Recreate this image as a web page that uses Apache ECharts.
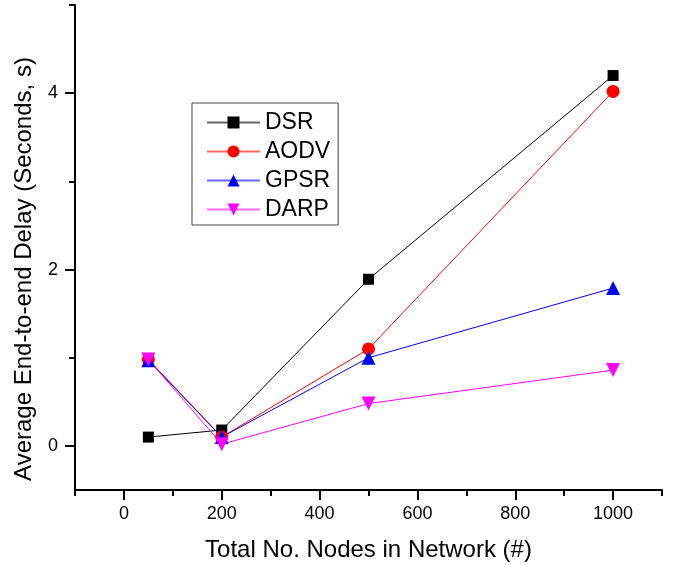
<!DOCTYPE html>
<html lang="en">
<head>
    <meta charset="UTF-8">
    <title>End-to-end Delay</title>
    <script src="https://cdn.jsdelivr.net/npm/echarts@6/dist/echarts.min.js"></script>
</head>
<body style="margin:0;">
    <div id="chart" style="width: 673px; height: 565px;"></div>
    <script type="text/javascript">
        // Data
        const nodes = [50, 200, 500, 1000];
        const dsr = [0.10, 0.18, 1.89, 4.20];
        const aodv = [0.98, 0.10, 1.10, 4.02];
        const gpsr = [0.97, 0.10, 1.00, 1.79];
        const darp = [0.98, 0.02, 0.48, 0.86];

        const xMajor = [0, 200, 400, 600, 800, 1000];
        const xMinor = [-100, 100, 300, 500, 700, 900, 1100];
        const yMajor = [0, 2, 4];
        const yMinor = [1, 3, 5];

        const xTitle = 'Total No. Nodes in Network (#)';
        const yTitle = 'Average End-to-end Delay (Seconds, s)';

        const font = 'Liberation Sans, Arial, sans-serif';
        const chart = echarts.init(document.getElementById('chart'));

        function pairs(ys) {
            return nodes.map((x, i) => [x, ys[i]]);
        }
        function lineSeries(name, ys, color, symbol, size, rotate) {
            return {
                name: name,
                type: 'line',
                data: pairs(ys),
                symbol: symbol,
                symbolSize: size,
                symbolRotate: rotate || 0,
                lineStyle: { color: color, width: 1 },
                itemStyle: { color: color },
                xAxisIndex: 0,
                yAxisIndex: 0
            };
        }

        const axisLine = { show: true, onZero: false, lineStyle: { color: '#000', width: 2 } };
        const tickStyle = { width: 2, color: '#000' };

        chart.setOption({
            animation: false,
            grid: { left: 75, right: 11, top: 5, bottom: 75, outerBoundsMode: 'none' },
            // y title sits a little below the middle of the axis in the original
            graphic: [{
                type: 'text',
                x: 24,
                y: 269,
                rotation: Math.PI / 2,
                style: {
                    text: yTitle,
                    fontFamily: font,
                    fontSize: 24,
                    fill: '#000',
                    align: 'center',
                    verticalAlign: 'middle'
                }
            }],
            legend: {
                orient: 'vertical',
                left: 192,
                top: 103,
                padding: [8, 8, 4, 14],
                itemWidth: 53,
                itemHeight: 15,
                itemGap: 6,
                borderColor: '#444',
                borderWidth: 1,
                lineStyle: { opacity: 0.6 },
                textStyle: { fontFamily: font, fontSize: 23, color: '#000' },
                data: ['DSR', 'AODV', 'GPSR', 'DARP']
            },
            xAxis: [{
                type: 'value',
                min: -100,
                max: 1100,
                name: xTitle,
                nameLocation: 'middle',
                nameGap: 48,
                nameTextStyle: { fontFamily: font, fontSize: 24, color: '#000' },
                axisLine: axisLine,
                splitLine: { show: false },
                axisTick: { show: true, length: 10, lineStyle: tickStyle, customValues: xMajor },
                axisLabel: {
                    fontFamily: font, fontSize: 18, color: '#000', margin: 15,
                    customValues: xMajor, formatter: v => String(v)
                }
            }, {
                type: 'value',
                position: 'bottom',
                min: -100,
                max: 1100,
                axisLine: { show: false, onZero: false },
                splitLine: { show: false },
                axisTick: { show: true, length: 6, lineStyle: tickStyle, customValues: xMinor },
                axisLabel: { show: false }
            }],
            yAxis: [{
                type: 'value',
                min: -0.5,
                max: 5,
                axisLine: axisLine,
                splitLine: { show: false },
                axisTick: { show: true, length: 10, lineStyle: tickStyle, customValues: yMajor },
                axisLabel: {
                    fontFamily: font, fontSize: 18, color: '#000', margin: 17,
                    customValues: yMajor, formatter: v => String(v)
                }
            }, {
                type: 'value',
                position: 'left',
                min: -0.5,
                max: 5,
                axisLine: { show: false, onZero: false },
                splitLine: { show: false },
                axisTick: { show: true, length: 6, lineStyle: tickStyle, customValues: yMinor },
                axisLabel: { show: false }
            }],
            series: [
                lineSeries('DSR', dsr, '#000000', 'rect', 11),
                lineSeries('AODV', aodv, '#ff0000', 'circle', 13),
                lineSeries('GPSR', gpsr, '#0000ff', 'triangle', 14),
                lineSeries('DARP', darp, '#ff00ff', 'triangle', 14, 180)
            ]
        });
    </script>
</body>
</html>
